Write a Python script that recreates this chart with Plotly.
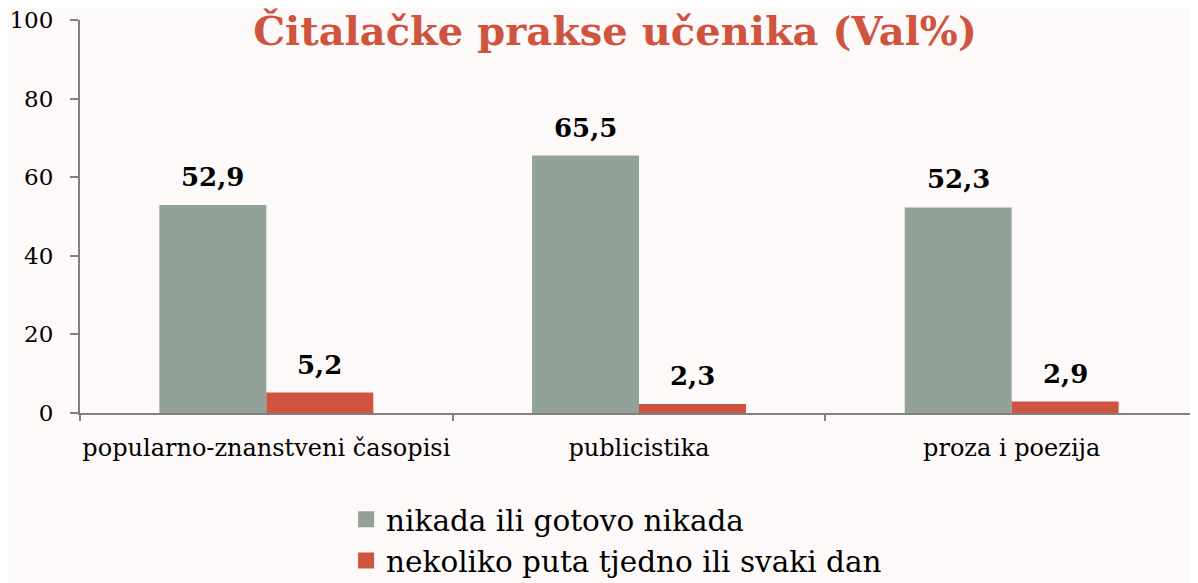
import plotly.graph_objects as go

categories = ["popularno-znanstveni časopisi", "publicistika", "proza i poezija"]
series_names = ["nikada ili gotovo nikada", "nekoliko puta tjedno ili svaki dan"]
never_vals = [52.9, 65.5, 52.3]
often_vals = [5.2, 2.3, 2.9]
y_ticks = [0, 20, 40, 60, 80, 100]

GREEN = "#93A299"
RED = "#CF543F"
BG = "#FCF9F8"
FONT = "DejaVu Serif"

W, H = 1190, 575  # page body adds an 8px margin

def fmt(v):
    return f"{v:.1f}".replace(".", ",")

fig = go.Figure()
series = [(series_names[0], never_vals, GREEN), (series_names[1], often_vals, RED)]
for name, vals, col in series:
    fig.add_trace(go.Bar(
        x=categories, y=vals, name=name, marker=dict(color=col, line=dict(width=0)),
        showlegend=False, hoverinfo="x+y",
    ))
# legend entries with larger square swatches
for name, vals, col in series:
    fig.add_trace(go.Scatter(
        x=[None], y=[None], mode="markers", name=name,
        marker=dict(symbol="square", size=17, color=col),
    ))

annotations = []
for i, (name, vals, col) in enumerate(series):
    shift = -53.5 if i == 0 else 53.5
    for c, v in zip(categories, vals):
        annotations.append(dict(
            x=c, y=v, xref="x", yref="y", text=f"<b>{fmt(v)}</b>", showarrow=False,
            xanchor="center", yanchor="bottom", xshift=shift, yshift=11,
            font=dict(family=FONT, size=26, color="black"),
        ))

fig.update_layout(
    barmode="group",
    bargap=0.426,
    bargroupgap=0,
    width=W, height=H,
    margin=dict(l=72, r=0, t=12, b=170, autoexpand=False),
    paper_bgcolor=BG, plot_bgcolor=BG,
    font=dict(family=FONT, color="black"),
    annotations=annotations,
    title=dict(
        text="<b>Čitalačke prakse učenika (Val%)</b>",
        font=dict(family=FONT, size=40, color=RED),
        x=607/W, xref="container", xanchor="center",
        y=1-23/H, yref="container", yanchor="middle",
    ),
    legend=dict(
        orientation="v", x=0.238, xanchor="left", y=-0.205, yanchor="top",
        font=dict(family=FONT, size=29.5, color="black"),
        bgcolor="rgba(0,0,0,0)", itemwidth=30,
    ),
    showlegend=True,
)
fig.update_yaxes(
    range=[0, 100], tickvals=y_ticks, showgrid=False, zeroline=False,
    showline=True, linecolor="#808080", linewidth=2,
    ticks="outside", ticklen=8, tickwidth=2, tickcolor="#808080",
    ticklabelstandoff=12, ticklabeloverflow="allow",
    tickfont=dict(family=FONT, size=23, color="black"),
)
fig.update_xaxes(
    showgrid=False, showline=True, linecolor="#808080", linewidth=2,
    ticks="outside", ticklen=6, tickwidth=2, tickcolor="#808080",
    tickson="boundaries", ticklabelstandoff=12, tickangle=0,
    tickfont=dict(family=FONT, size=24, color="black"),
)

fig.write_html("out.html")
